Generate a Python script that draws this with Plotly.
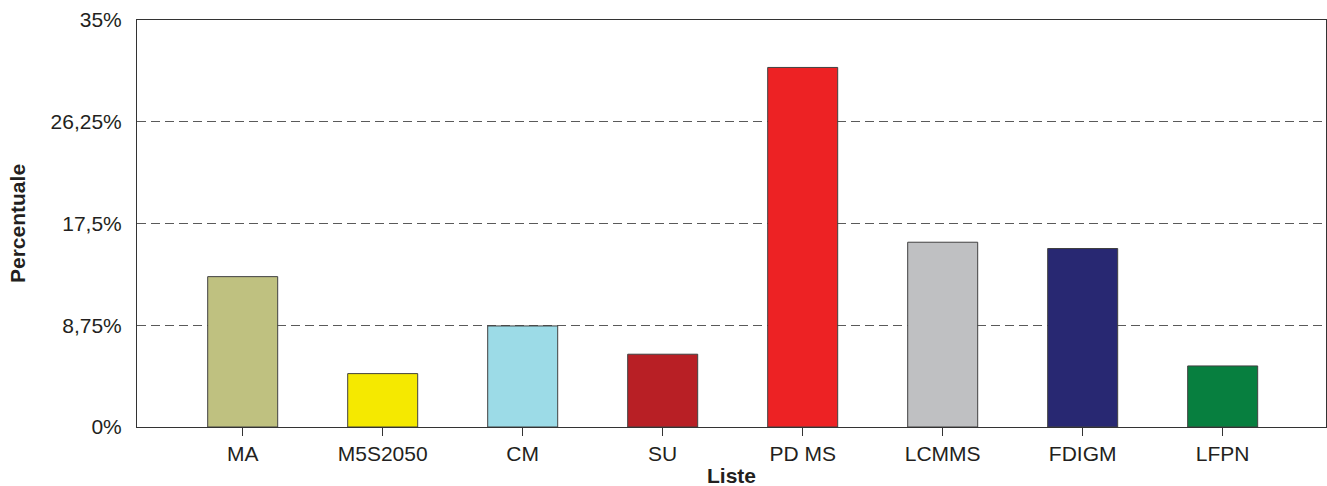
import plotly.graph_objects as go

categories = ["MA", "M5S2050", "CM", "SU", "PD MS", "LCMMS", "FDIGM", "LFPN"]
values = [12.93, 4.59, 8.69, 6.26, 30.92, 15.89, 15.35, 5.25]
colors = ["#bfc180", "#f5e900", "#9cdbe7", "#b81f25", "#ed2224", "#bfc0c2", "#282872", "#077f3f"]
y_tickvals = [0, 8.75, 17.5, 26.25, 35]
y_ticktext = ["0%", "8,75%", "17,5%", "26,25%", "35%"]

W, H = 1327, 486
ml, mr, mt, mb = 137, 1, 20, 59
pw = W - ml - mr
ph = H - mt - mb

font_family = "Liberation Sans, Arial, sans-serif"
txt_color = "#231f20"
fs = 21

fig = go.Figure()
fig.add_trace(go.Bar(
    x=list(range(len(categories))),
    y=values,
    width=0.5,
    marker=dict(color=colors, line=dict(color="#404040", width=1)),
    hoverinfo="y",
))

fig.update_layout(
    width=W, height=H,
    margin=dict(l=ml, r=mr, t=mt, b=mb, pad=0),
    paper_bgcolor="white", plot_bgcolor="white",
    showlegend=False,
    font=dict(family=font_family, size=fs, color=txt_color),
    xaxis=dict(
        tickmode="array",
        tickvals=list(range(len(categories))),
        ticktext=categories,
        range=[-0.755, 7.738],
        showgrid=False,
        showline=True, linecolor="#333333", linewidth=1,
        mirror=True,
        ticks="outside", ticklen=8, tickcolor="#333333", tickwidth=1,
        tickfont=dict(size=fs, color=txt_color),
        zeroline=False,
    ),
    yaxis=dict(
        tickmode="array",
        tickvals=y_tickvals,
        ticktext=y_ticktext,
        range=[0, 35],
        showgrid=True, gridcolor="#5a5a5a", gridwidth=1, griddash="9px,5px",
        showline=True, linecolor="#333333", linewidth=1,
        mirror=True,
        ticks="", ticklabelstandoff=10,
        tickfont=dict(size=fs, color=txt_color),
        zeroline=False,
    ),
    annotations=[
        dict(text="<b>Percentuale</b>", xref="paper", yref="paper",
             x=(18 - ml) / pw, y=(H - mb - 224) / ph, xanchor="center", yanchor="middle",
             textangle=-90, showarrow=False, font=dict(size=fs, color=txt_color)),
        dict(text="<b>Liste</b>", xref="paper", yref="paper",
             x=(731 - ml) / pw, y=-(475 - (H - mb)) / ph, xanchor="center", yanchor="middle",
             showarrow=False, font=dict(size=fs, color=txt_color)),
    ],
)

fig.write_html("out.html", config={"displayModeBar": False},
               post_script="document.body.style.margin='0';document.body.style.overflow='hidden';")
